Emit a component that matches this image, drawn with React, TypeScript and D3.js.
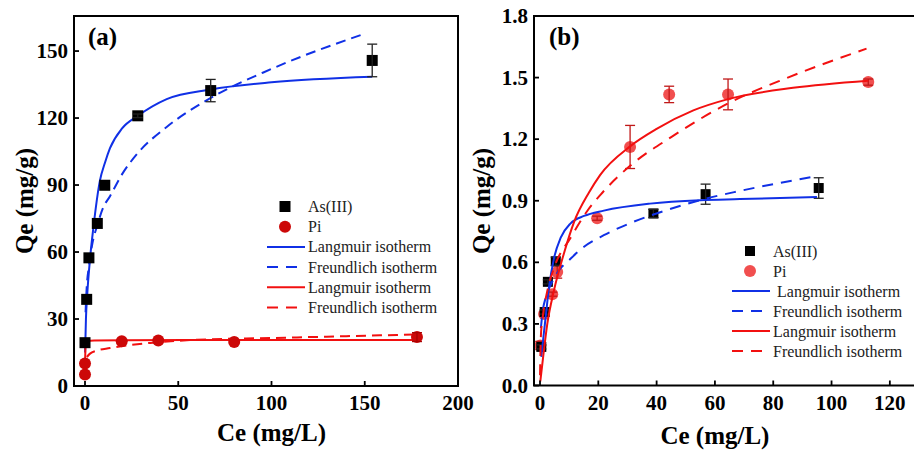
import React from 'react';
import * as d3 from 'd3';

// ---------- Panel (a) data ----------
const asCeA = [0, 0.9, 2.1, 6.6, 10.6, 28.3, 67.4, 154];
const asQeA = [19.4, 38.8, 57.4, 72.8, 89.9, 121, 132.3, 145.8];
const asErrA = [0, 0, 0, 0, 0, 0.8, 5, 7.3];
const piCeA = [0, 0, 19.7, 39.3, 80, 178];
const piQeA = [5.2, 10.1, 20, 20.4, 19.7, 21.9];
const piErrA = [0, 0, 0, 0, 0, 2];

const asLangCeA = [0.05, 0.5, 1.2, 2.7, 4.5, 8, 10.7, 13.4, 20, 28.3, 43.8, 67.4, 100, 154];
const asLangQeA = [15, 30, 41, 57, 71, 92, 100, 106.5, 115.5, 121, 128.5, 132.8, 136, 138.5];
const asFreCeA = [0.3, 0.9, 2, 4, 6.6, 9.8, 13.4, 20, 28, 43.8, 67.4, 100, 149];
const asFreQeA = [33, 44, 53, 64, 72, 80, 85, 95, 104, 116, 129, 142, 157.5];
const piLangCeA = [0.05, 0.2, 0.5, 1, 5, 20, 80, 178];
const piLangQeA = [11, 16, 19.5, 20.2, 20.4, 20.5, 20.6, 20.6];
const piFreCeA = [1, 2.7, 6, 13.4, 35, 60, 100, 140, 178];
const piFreQeA = [13, 14.5, 15.8, 17, 19.3, 20.7, 21.5, 22.3, 23.1];

const xTicksA = [0, 50, 100, 150, 200];
const yTicksA = [0, 30, 60, 90, 120, 150];

// ---------- Panel (b) data ----------
const asCeB = [0.45, 1.6, 2.7, 5.4, 38.9, 56.8, 95.6];
const asQeB = [0.188, 0.358, 0.505, 0.605, 0.838, 0.932, 0.962];
const asErrB = [0.01, 0.01, 0.01, 0.02, 0.02, 0.049, 0.05];
const piCeB = [0.1, 1.4, 4.2, 5.9, 19.6, 30.9, 44.3, 64.5, 112.6];
const piQeB = [0.195, 0.348, 0.445, 0.553, 0.815, 1.162, 1.418, 1.418, 1.478];
const piErrB = [0.02, 0.01, 0.01, 0.03, 0.01, 0.105, 0.04, 0.075, 0.015];

const asLangCeB = [0.45, 1.2, 1.95, 3.1, 4.8, 7.1, 10.5, 15.1, 21.9, 37.7, 54.9, 68.6, 95];
const asLangQeB = [0.139, 0.24, 0.334, 0.48, 0.62, 0.72, 0.79, 0.826, 0.852, 0.886, 0.903, 0.908, 0.918];
const asFreCeB = [0.3, 0.9, 2, 4, 7, 9.9, 15.1, 21.9, 32, 43.4, 54.9, 68.6, 95.4];
const asFreQeB = [0.28, 0.36, 0.43, 0.5, 0.57, 0.61, 0.676, 0.732, 0.797, 0.854, 0.903, 0.948, 1.021];
const piLangCeB = [0.1, 1, 2.5, 4.8, 8.2, 11.7, 16.8, 20.6, 30.9, 40, 52.6, 64.5, 86.8, 112.6];
const piLangQeB = [0.02, 0.13, 0.3, 0.464, 0.643, 0.797, 0.94, 1.025, 1.165, 1.25, 1.34, 1.395, 1.45, 1.485];
const piFreCeB = [0.01, 0.3, 1, 2.5, 5, 10.5, 16.2, 20.8, 30.9, 45, 64.5, 85, 112];
const piFreQeB = [0.05, 0.24, 0.34, 0.46, 0.58, 0.72, 0.85, 0.93, 1.07, 1.21, 1.374, 1.5, 1.641];

const xTicksB = [0, 20, 40, 60, 80, 100, 120];
const yTicksB = [0, 0.3, 0.6, 0.9, 1.2, 1.5, 1.8];

const legendLabelsA = ['As(III)', 'Pi', 'Langmuir isotherm', 'Freundlich isotherm', 'Langmuir isotherm', 'Freundlich isotherm'];
const legendLabelsB = ['As(III)', 'Pi', ' Langmuir isotherm', 'Freundlich isotherm', 'Langmuir isotherm', 'Freundlich isotherm'];

const FONT = 'Liberation Serif';
const BLUE = '#1030e6';
const RED = '#f21010';

type Pt = [number, number];
const zip = (xs: number[], ys: number[]): Pt[] => xs.map((x, i) => [x, ys[i]] as Pt);

const tStyle = { fontFamily: FONT } as React.CSSProperties;

interface PanelProps {
  left: number; right: number; top: number; bottom: number;
  xDomain: [number, number]; yDomain: [number, number];
  xTicks: number[]; yTicks: number[]; yFmt: (v: number) => string;
  label: string; labelX: number;
  yTitleX: number; xTitleY: number;
  asCe: number[]; asQe: number[]; asErr: number[];
  piCe: number[]; piQe: number[]; piErr: number[];
  curves: { ce: number[]; qe: number[]; color: string; dash?: string }[];
  piFill: string; piOpacity: number; piErrColor: string;
  sq: number; cr: number;
  legendLabels: string[]; legX: number; legY: number; legStep: number;
  legDashes: (string | undefined)[];
  linesOnTop: boolean;
}

function Panel(p: PanelProps) {
  const x = d3.scaleLinear().domain(p.xDomain).range([p.left, p.right]);
  const y = d3.scaleLinear().domain(p.yDomain).range([p.bottom, p.top]);
  const line = d3.line<Pt>().x(d => x(d[0])).y(d => y(d[1])).curve(d3.curveMonotoneX);

  const curves = p.curves.map((c, i) => (
    <path key={'c' + i} d={line(zip(c.ce, c.qe)) || ''} fill="none" stroke={c.color}
      strokeWidth={2} strokeDasharray={c.dash} />
  ));

  const errBar = (cx: number, cy: number, e: number, color: string, key: string) => {
    if (!e) return null;
    const px = x(cx), y1 = y(cy - e), y2 = y(cy + e);
    return (
      <g key={key} stroke={color} strokeWidth={1.3}>
        <line x1={px} x2={px} y1={y1} y2={y2} />
        <line x1={px - 5} x2={px + 5} y1={y1} y2={y1} />
        <line x1={px - 5} x2={px + 5} y1={y2} y2={y2} />
      </g>
    );
  };

  const markers = (
    <g>
      {p.piCe.map((c, i) => (
        <circle key={'pc' + i} cx={x(c)} cy={y(p.piQe[i])} r={p.cr} fill={p.piFill} opacity={p.piOpacity} />
      ))}
      {p.piCe.map((c, i) => errBar(c, p.piQe[i], p.piErr[i], p.piErrColor, 'pe' + i))}
      {p.asCe.map((c, i) => (
        <rect key={'as' + i} x={x(c) - p.sq / 2} y={y(p.asQe[i]) - p.sq / 2} width={p.sq} height={p.sq} fill="#000" />
      ))}
      {p.asCe.map((c, i) => errBar(c, p.asQe[i], p.asErr[i], '#222', 'ae' + i))}
    </g>
  );

  const tickLen = 5;
  const legColors = ['#000', p.piFill, BLUE, BLUE, RED, RED];

  return (
    <g>
      {p.linesOnTop ? null : curves}
      {markers}
      {p.linesOnTop ? curves : null}
      <rect x={p.left} y={p.top} width={p.right - p.left} height={p.bottom - p.top} fill="none" stroke="#000" strokeWidth={2} />
      {p.xTicks.map(t => (
        <g key={'xt' + t}>
          <line x1={x(t)} x2={x(t)} y1={p.bottom} y2={p.bottom - tickLen} stroke="#000" strokeWidth={1.8} />
          <text style={tStyle} x={x(t)} y={409.5} textAnchor="middle" fontSize={21} fontWeight="bold">{t}</text>
        </g>
      ))}
      {p.yTicks.map(t => (
        <g key={'yt' + t}>
          <line x1={p.left} x2={p.left + tickLen} y1={y(t)} y2={y(t)} stroke="#000" strokeWidth={1.8} />
          <text style={tStyle} x={p.left - 6} y={y(t)} textAnchor="end" dominantBaseline="central" fontSize={21} fontWeight="bold">{p.yFmt(t)}</text>
        </g>
      ))}
      <text style={tStyle} x={(x(p.xTicks[0]) + x(p.xTicks[p.xTicks.length - 1])) / 2} y={p.xTitleY} textAnchor="middle" fontSize={25} fontWeight="bold">Ce (mg/L)</text>
      <text style={tStyle} transform={`translate(${p.yTitleX},201) rotate(-90)`} textAnchor="middle" dominantBaseline="central" fontSize={25} fontWeight="bold">Qe (mg/g)</text>
      <text style={tStyle} x={p.labelX} y={45} fontSize={25} fontWeight="bold">{p.label}</text>
      {p.legendLabels.map((lab, i) => {
        const ly = p.legY + i * p.legStep;
        let sym;
        if (i === 0) sym = <rect x={p.legX + 18 - p.sq / 2} y={ly - p.sq / 2} width={p.sq} height={p.sq} fill="#000" />;
        else if (i === 1) sym = <circle cx={p.legX + 18} cy={ly} r={p.cr} fill={p.piFill} opacity={p.piOpacity} />;
        else sym = <line x1={p.legX} x2={p.legX + 38} y1={ly} y2={ly} stroke={legColors[i]} strokeWidth={2} strokeDasharray={p.legDashes[i]} />;
        return (
          <g key={'lg' + i}>
            {sym}
            <text x={p.legX + 41} y={ly} dominantBaseline="central" fontSize={16} fill="#222" style={{ ...tStyle, whiteSpace: 'pre' }}>{lab}</text>
          </g>
        );
      })}
    </g>
  );
}

export default function App() {
  const dashA = '10,6';
  const dashB = '11,8';
  return (
    <svg width={914} height={452} style={{ position: 'absolute', left: 0, top: 0, background: '#fff' }}>
      <rect x={0} y={0} width={914} height={452} fill="#fff" />
      <Panel
        left={74} right={458} top={16} bottom={386}
        xDomain={[-5.9, 200]} yDomain={[0, 165.7]}
        xTicks={xTicksA} yTicks={yTicksA} yFmt={v => String(v)}
        label="(a)" labelX={88} yTitleX={24} xTitleY={441}
        asCe={asCeA} asQe={asQeA} asErr={asErrA}
        piCe={piCeA} piQe={piQeA} piErr={piErrA}
        curves={[
          { ce: asLangCeA, qe: asLangQeA, color: BLUE },
          { ce: asFreCeA, qe: asFreQeA, color: BLUE, dash: dashA },
          { ce: piLangCeA, qe: piLangQeA, color: RED },
          { ce: piFreCeA, qe: piFreQeA, color: RED, dash: dashA },
        ]}
        piFill="#cc0808" piOpacity={1} piErrColor="#aa0000"
        sq={11} cr={6}
        legendLabels={legendLabelsA} legX={267} legY={206.5} legStep={20.2}
        legDashes={[undefined, undefined, undefined, '11,8', undefined, '11,8']}
        linesOnTop={false}
      />
      <Panel
        left={534} right={919} top={16} bottom={385.5}
        xDomain={[-2.06, 130]} yDomain={[0, 1.8]}
        xTicks={xTicksB} yTicks={yTicksB} yFmt={v => v.toFixed(1)}
        label="(b)" labelX={549} yTitleX={481} xTitleY={444}
        asCe={asCeB} asQe={asQeB} asErr={asErrB}
        piCe={piCeB} piQe={piQeB} piErr={piErrB}
        curves={[
          { ce: asLangCeB, qe: asLangQeB, color: BLUE },
          { ce: asFreCeB, qe: asFreQeB, color: BLUE, dash: dashB },
          { ce: piLangCeB, qe: piLangQeB, color: RED },
          { ce: piFreCeB, qe: piFreQeB, color: RED, dash: dashB },
        ]}
        piFill="#ee3030" piOpacity={0.85} piErrColor="#c01818"
        sq={10} cr={6}
        legendLabels={legendLabelsB} legX={732} legY={251} legStep={20}
        legDashes={[undefined, undefined, undefined, '11,8', undefined, '11,8']}
        linesOnTop={true}
      />
    </svg>
  );
}
